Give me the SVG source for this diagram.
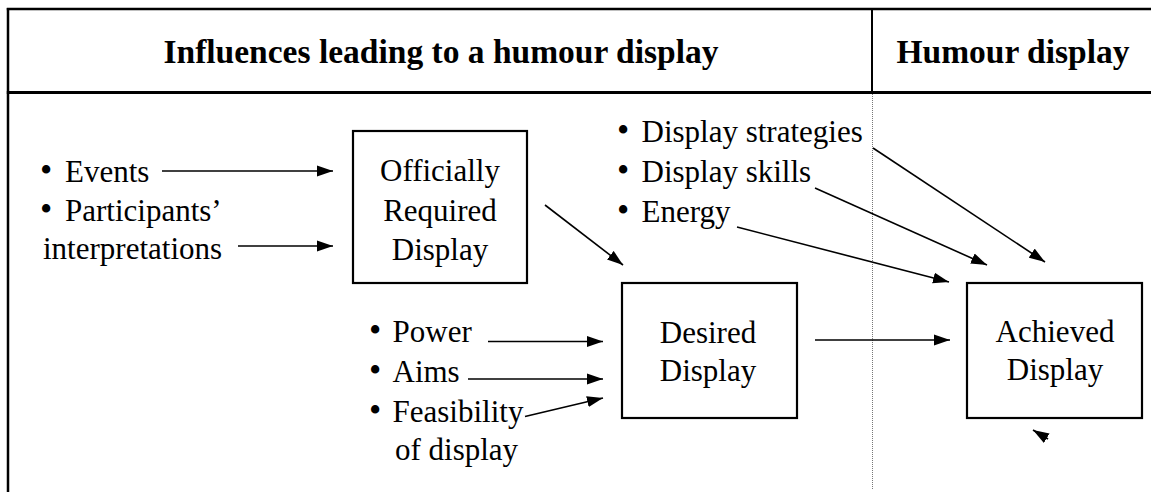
<svg xmlns="http://www.w3.org/2000/svg" width="1151" height="492" viewBox="0 0 1151 492">
<style>
text{font-family:"Liberation Serif","Times New Roman",serif;fill:#000}
.h{font-size:33.5px;font-weight:bold;text-anchor:middle}
.t{font-size:31px}
.c{font-size:31px;text-anchor:middle}
.b{font-size:35px}
.box{fill:#fff;stroke:#000;stroke-width:2.2}
.frame{stroke:#000;fill:none}
.con line{stroke:#000;stroke-width:1.6;marker-end:url(#ah)}
</style>
<defs>
<marker id="ah" markerUnits="userSpaceOnUse" markerWidth="16" markerHeight="12" refX="16" refY="6" orient="auto" viewBox="0 0 16 12">
<path d="M0,0.5 L16,6 L0,11.5 z" fill="#000"/>
</marker>
</defs>
<rect width="1151" height="492" fill="#fff"/>
<g id="frame">
<line class="frame" x1="6.8" y1="9" x2="1151" y2="9" stroke-width="2.5"/>
<line class="frame" x1="8" y1="8" x2="8" y2="492" stroke-width="2.5"/>
<line class="frame" x1="872" y1="9" x2="872" y2="92" stroke-width="2"/>
<line class="frame" x1="6.8" y1="92.5" x2="1151" y2="92.5" stroke-width="3"/>
<line x1="872.5" y1="94" x2="872.5" y2="490" stroke="#777" stroke-width="1" stroke-dasharray="1,1"/>
<text class="h" x="441" y="63">Influences leading to a humour display</text>
<text class="h" x="1013" y="63">Humour display</text>
</g>
<g id="influences-official">
<text class="t" x="40" y="182"><tspan class="b">•</tspan><tspan x="65">Events</tspan></text>
<text class="t" x="40" y="221"><tspan class="b">•</tspan><tspan x="65">Participants’</tspan></text>
<text class="t" x="43" y="259">interpretations</text>
</g>
<g id="official">
<rect class="box" x="353" y="131" width="174" height="152"/>
<text class="c" x="440" y="181">Officially</text>
<text class="c" x="440" y="221">Required</text>
<text class="c" x="440" y="260">Display</text>
</g>
<g id="influences-desired">
<text class="t" x="369" y="342"><tspan class="b">•</tspan><tspan x="392.5">Power</tspan></text>
<text class="t" x="369" y="382"><tspan class="b">•</tspan><tspan x="392.5">Aims</tspan></text>
<text class="t" x="369" y="422"><tspan class="b">•</tspan><tspan x="392.5">Feasibility</tspan></text>
<text class="t" x="395" y="460">of display</text>
</g>
<g id="desired">
<rect class="box" x="622" y="283" width="175" height="135"/>
<text class="c" x="708" y="343">Desired</text>
<text class="c" x="708" y="381">Display</text>
</g>
<g id="influences-achieved">
<text class="t" x="617" y="142"><tspan class="b">•</tspan><tspan x="641.5">Display strategies</tspan></text>
<text class="t" x="617" y="182"><tspan class="b">•</tspan><tspan x="641.5">Display skills</tspan></text>
<text class="t" x="617" y="222"><tspan class="b">•</tspan><tspan x="641.5">Energy</tspan></text>
</g>
<g id="achieved">
<rect class="box" x="967" y="283" width="175" height="135"/>
<text class="c" x="1055" y="342">Achieved</text>
<text class="c" x="1055" y="380">Display</text>
</g>
<g id="connectors" class="con">
<line x1="162" y1="171" x2="333" y2="171"/>
<line x1="238" y1="246" x2="333" y2="246"/>
<line x1="545" y1="205" x2="623" y2="265"/>
<line x1="488" y1="341.5" x2="603" y2="341.5"/>
<line x1="468" y1="379" x2="603" y2="379"/>
<line x1="525" y1="416.5" x2="603" y2="398"/>
<line x1="815" y1="340" x2="950" y2="340"/>
<line x1="873" y1="148" x2="1045" y2="262"/>
<line x1="815" y1="188" x2="987" y2="265"/>
<line x1="737" y1="227" x2="949" y2="282"/>
<line x1="1048" y1="439" x2="1033" y2="430"/>
</g>
</svg>
